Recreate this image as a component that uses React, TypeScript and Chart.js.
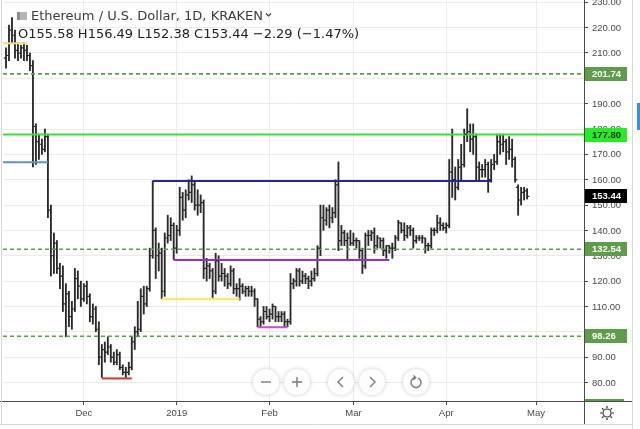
import React, { useEffect, useRef } from "react";
import { Chart, registerables } from "chart.js";

Chart.register(...registerables);

// ---------- DATA ----------
const dates = [
  "2018-11-05","2018-11-06","2018-11-07","2018-11-08","2018-11-09","2018-11-10","2018-11-11","2018-11-12","2018-11-13","2018-11-14",
  "2018-11-15","2018-11-16","2018-11-17","2018-11-18","2018-11-19","2018-11-20","2018-11-21","2018-11-22","2018-11-23","2018-11-24",
  "2018-11-25","2018-11-26","2018-11-27","2018-11-28","2018-11-29","2018-11-30",
  "2018-12-01","2018-12-02","2018-12-03","2018-12-04","2018-12-05","2018-12-06","2018-12-07","2018-12-08","2018-12-09","2018-12-10",
  "2018-12-11","2018-12-12","2018-12-13","2018-12-14","2018-12-15","2018-12-16","2018-12-17","2018-12-18","2018-12-19","2018-12-20",
  "2018-12-21","2018-12-22","2018-12-23","2018-12-24","2018-12-25","2018-12-26","2018-12-27","2018-12-28","2018-12-29","2018-12-30","2018-12-31",
  "2019-01-01","2019-01-02","2019-01-03","2019-01-04","2019-01-05","2019-01-06","2019-01-07","2019-01-08","2019-01-09","2019-01-10",
  "2019-01-11","2019-01-12","2019-01-13","2019-01-14","2019-01-15","2019-01-16","2019-01-17","2019-01-18","2019-01-19","2019-01-20",
  "2019-01-21","2019-01-22","2019-01-23","2019-01-24","2019-01-25","2019-01-26","2019-01-27","2019-01-28","2019-01-29","2019-01-30","2019-01-31",
  "2019-02-01","2019-02-02","2019-02-03","2019-02-04","2019-02-05","2019-02-06","2019-02-07","2019-02-08","2019-02-09","2019-02-10",
  "2019-02-11","2019-02-12","2019-02-13","2019-02-14","2019-02-15","2019-02-16","2019-02-17","2019-02-18","2019-02-19","2019-02-20",
  "2019-02-21","2019-02-22","2019-02-23","2019-02-24","2019-02-25","2019-02-26","2019-02-27","2019-02-28",
  "2019-03-01","2019-03-02","2019-03-03","2019-03-04","2019-03-05","2019-03-06","2019-03-07","2019-03-08","2019-03-09","2019-03-10",
  "2019-03-11","2019-03-12","2019-03-13","2019-03-14","2019-03-15","2019-03-16","2019-03-17","2019-03-18","2019-03-19","2019-03-20",
  "2019-03-21","2019-03-22","2019-03-23","2019-03-24","2019-03-25","2019-03-26","2019-03-27","2019-03-28","2019-03-29","2019-03-30","2019-03-31",
  "2019-04-01","2019-04-02","2019-04-03","2019-04-04","2019-04-05","2019-04-06","2019-04-07","2019-04-08","2019-04-09","2019-04-10",
  "2019-04-11","2019-04-12","2019-04-13","2019-04-14","2019-04-15","2019-04-16","2019-04-17","2019-04-18","2019-04-19","2019-04-20",
  "2019-04-21","2019-04-22","2019-04-23","2019-04-24","2019-04-25","2019-04-26","2019-04-27","2019-04-28",
];

const opens = [
  208,209,219,217,211,210,212,211,209,205,181,175,174,172,177,148,130,135,125,122,111,115,106,109,121,118,
  113,118,114,106,109,101,90,93,92,94,90,88,91,86,84,84,86,96,100,101,114,111,117,130,140,130,131,116,137,138,142,
  133,140,153,148,154,155,158,150,150,151,125,126,124,116,128,122,123,122,119,124,117,117,118,116,117,116,116,113,105,104,108,
  106,107,110,106,106,107,104,104,119,120,124,120,122,121,120,121,123,133,145,144,148,145,147,158,136,139,136,137,
  135,136,136,132,126,138,138,139,134,137,136,132,134,133,133,137,143,140,138,141,140,136,137,137,137,134,134,140,140,143,142,
  141,142,163,160,157,165,166,178,179,176,177,165,164,164,166,160,166,167,175,174,175,171,172,168,157,152,155,155.58,
];
const highs = [
  212,221,224,219,214,213,214,213,210,207,182,178,176,180,178,150,139,136,127,126,119,116,112,125,124,120,
  119,120,115,111,110,104,95,96,98,95,92,93,92,87,86,88,98,102,112,117,118,118,133,159.5,141,135,133,139,146,145,143,
  142,157,155,156,160,161.5,159,156,154,152,129,127,125,131,130,127,125,123,126,125,119,121,119,118,118,118,117,113,106,110,110,
  109,111,110,108,108,108,105,123,121,125,125,124,123,122,124,125,134,150,150,149,150,149,160,167,142,140,139,140,
  139,137,136,133,139,140,140,141,138,137,137,134,134,135,138,144,143,143,142,142,141,138,138,138,137,135,141,141,146,145,143,
  143,168,180,165,168,174,180,188,182,182,178,167,166,168,167,168,170,178,178,178,176,177,176,169,158,157,157,156.49,
];
const lows = [
  204,207,214,208,207,208,207,207,203,165,166,168,170,171,145,122,123,123,117,108,98,102,101,108,113,110,
  112,111,104,103,100,87,82,88,91,88,87,87,85,83,82,83,85,93,98,100,107,110,116,129,121,124,113,114,135,136,128.5,
  131,138,144,145,152,151,148,146,147,121,120,121,113,115,120,120,118,117,118,115,114,112.5,115,114,114,114,110,102,102,103,105,
  104,105,104,104,104,102,102,103,117,118,118,119,119,117,118,120,122,130,140,142,141,143,145,132,134,134,128,134,
  134,133,129,123,125,134,136,131,133,133,130,129,131,129,132,136,139,136,137,138,133,135,136,135,131,132,133,138,139,140,140,
  139,141,153,152,156,160,165,175,171,170,160,160,161,161,155,159,164,166,170,171,166,168,165,159,146,150,152,152.38,
];
const closes = [
  209,219,217,211,210,212,211,209,205,181,175,174,172,177,148,130,135,125,122,111,115,106,109,121,118,113,
  118,114,106,109,101,90,93,92,94,90,88,91,86,84,84,86,96,100,101,114,111,117,130,140,130,131,116,137,138,142,133,
  140,153,148,154,155,158,150,150,151,125,126,124,116,128,122,123,122,119,124,117,117,118,116,117,116,116,113,105,104,108,106,
  107,110,106,106,107,104,104,119,120,124,120,122,121,120,121,123,133,145,144,148,145,147,158,136,139,136,137,135,
  136,136,132,126,138,138,139,134,137,136,132,134,133,133,137,143,140,138,141,140,136,137,137,137,134,134,140,140,143,142,141,
  142,163,160,157,165,166,178,179,176,177,165,164,164,166,160,166,167,175,174,175,171,172,168,160,152,155,155.58,153.44,
];

const viewStart = "2018-11-04";
const viewEnd = "2019-05-17";
const monthTickDates = ["2018-12-01", "2019-01-01", "2019-02-01", "2019-03-01", "2019-04-01", "2019-05-01"];
const monthTickLabels = ["Dec", "2019", "Feb", "Mar", "Apr", "May"];
const priceTicks = [80, 90, 100, 110, 120, 130, 140, 150, 160, 170, 180, 190, 200, 210, 220, 230];
const priceMin = 72.7;
const priceMax = 230.9;

// full-width horizontal levels
const levelValues = [201.74, 177.8, 132.54, 98.26];
const levelColors = ["#5f9e49", "#2ee82e", "#5f9e49", "#5f9e49"];
const levelDashed = [true, false, true, true];

// drawn segments
const segFrom = ["2018-11-04", "2018-11-04", "2018-12-24", "2018-12-31", "2018-12-27", "2019-01-28", "2018-12-07"];
const segTo = ["2018-11-12", "2018-11-19", "2019-04-16", "2019-03-13", "2019-01-22", "2019-02-07", "2018-12-17"];
const segLevel = [213.8, 166.9, 159.5, 128.3, 112.9, 101.8, 81.6];
const segColors = ["#f0dc7a", "#5b8ed8", "#25259e", "#9a2fc6", "#f3ee6a", "#e040d0", "#d93030"];

// axis price labels
const axisLabelValues = [201.74, 177.8, 153.44, 132.54, 98.26];
const axisLabelBg = ["#5f9e49", "#22ee22", "#000000", "#5f9e49", "#5f9e49"];
const axisLabelFg = ["#ffffff", "#1a2a1a", "#ffffff", "#ffffff", "#ffffff"];

const titleText = "Ethereum / U.S. Dollar, 1D, KRAKEN";
const changeText = "\u22122.29 (\u22121.47%)";

// ---------- helpers ----------
const DAY = 86400000;
const BASE = Date.UTC(2018, 11, 1);
function dayIndex(s: string): number {
  const [y, m, d] = s.split("-").map(Number);
  return (Date.UTC(y, m - 1, d) - BASE) / DAY;
}

const FONT = "'Liberation Sans', Arial, sans-serif";
const HFONT = "'DejaVu Sans', sans-serif";
const BAR_COLOR = "#2a2a2a";
const AXIS_COLOR = "#4a4a4a";

const overlayPlugin = {
  id: "overlay",
  beforeDraw(chart: any) {
    const { ctx, width, height } = chart;
    ctx.save();
    ctx.fillStyle = "#ffffff";
    ctx.fillRect(0, 0, width, height);
    ctx.restore();
  },
  afterDatasetsDraw(chart: any) {
    const { ctx, chartArea } = chart;
    const xs = chart.scales.x;
    const ys = chart.scales.y;
    ctx.save();
    ctx.beginPath();
    ctx.rect(chartArea.left, chartArea.top, chartArea.right - chartArea.left, chartArea.bottom - chartArea.top);
    ctx.clip();
    ctx.strokeStyle = BAR_COLOR;
    ctx.lineWidth = 1.2;
    ctx.beginPath();
    for (let i = 0; i < dates.length; i++) {
      const x = xs.getPixelForValue(dayIndex(dates[i]));
      const yo = ys.getPixelForValue(opens[i]);
      const yc = ys.getPixelForValue(closes[i]);
      ctx.moveTo(x - 2.2, yo);
      ctx.lineTo(x, yo);
      ctx.moveTo(x, yc);
      ctx.lineTo(x + 2.2, yc);
    }
    ctx.stroke();
    ctx.restore();
  },
  afterDraw(chart: any) {
    const { ctx, chartArea } = chart;
    const ys = chart.scales.y;
    const right = chartArea.right;
    ctx.save();

    // price tick labels
    ctx.font = `9.5px ${FONT}`;
    ctx.fillStyle = AXIS_COLOR;
    ctx.textAlign = "left";
    ctx.textBaseline = "middle";
    for (const v of priceTicks) {
      const y = ys.getPixelForValue(v);
      if (y < -6 || y > chartArea.bottom) continue;
      ctx.fillText(v.toFixed(2), right + 8, y + 0.5);
    }

    // price label boxes
    for (let i = 0; i < axisLabelValues.length; i++) {
      const y = ys.getPixelForValue(axisLabelValues[i]);
      ctx.fillStyle = axisLabelBg[i];
      ctx.fillRect(right + 1, Math.round(y) - 7, 42, 14);
      ctx.fillStyle = axisLabelFg[i];
      ctx.font = `bold 9.5px ${FONT}`;
      ctx.fillText(axisLabelValues[i].toFixed(2), right + 8, y + 0.5);
    }
    // cut label at bottom of axis
    ctx.fillStyle = "#5f9e49";
    ctx.fillRect(right + 1, chartArea.bottom - 2, 39, 2);

    // frame lines
    ctx.strokeStyle = AXIS_COLOR;
    ctx.lineWidth = 1;
    ctx.beginPath();
    ctx.moveTo(right + 0.5, 0);
    ctx.lineTo(right + 0.5, 424);
    ctx.moveTo(0, chartArea.bottom + 0.5);
    ctx.lineTo(633, chartArea.bottom + 0.5);
    ctx.stroke();
    ctx.strokeStyle = "#d8d8d8";
    ctx.beginPath();
    ctx.moveTo(1.5, 0);
    ctx.lineTo(1.5, 424);
    ctx.moveTo(632.5, 0);
    ctx.lineTo(632.5, 429);
    ctx.moveTo(0, 424.5);
    ctx.lineTo(633, 424.5);
    ctx.stroke();
    ctx.fillStyle = "#3a8ee6";
    ctx.fillRect(637, 103, 3, 27);

    // header
    ctx.fillStyle = "#b5b5b5";
    ctx.fillRect(17, 12, 10, 8);
    ctx.fillStyle = "#8e8e8e";
    ctx.fillRect(17, 12, 3, 8);
    ctx.font = `13px ${HFONT}`;
    ctx.textAlign = "left";
    ctx.textBaseline = "alphabetic";
    ctx.fillStyle = "#3c3c3c";
    ctx.fillText(titleText, 31, 20);
    const tw = ctx.measureText(titleText).width;
    ctx.strokeStyle = "#3c3c3c";
    ctx.lineWidth = 1.2;
    ctx.beginPath();
    ctx.moveTo(31 + tw + 3, 13.5);
    ctx.lineTo(31 + tw + 5.5, 16);
    ctx.lineTo(31 + tw + 8, 13.5);
    ctx.stroke();
    const n = opens.length - 1;
    const ohlc = `O${opens[n].toFixed(2)} H${highs[n].toFixed(2)} L${lows[n].toFixed(2)} C${closes[n].toFixed(2)} ${changeText}`;
    ctx.fillStyle = "#222222";
    ctx.fillText(ohlc, 18, 38);

    // navigation buttons
    const btnX = [266, 297, 341, 372, 416];
    const cy = 382;
    for (let i = 0; i < btnX.length; i++) {
      const cx = btnX[i];
      ctx.save();
      ctx.shadowColor = "rgba(0,0,0,0.22)";
      ctx.shadowBlur = 4;
      ctx.fillStyle = "rgba(255,255,255,0.96)";
      ctx.beginPath();
      ctx.arc(cx, cy, 13, 0, Math.PI * 2);
      ctx.fill();
      ctx.restore();
      ctx.strokeStyle = "#7a7a7a";
      ctx.lineWidth = 1.4;
      ctx.beginPath();
      if (i === 0) {
        ctx.moveTo(cx - 5, cy); ctx.lineTo(cx + 5, cy);
      } else if (i === 1) {
        ctx.moveTo(cx - 5, cy); ctx.lineTo(cx + 5, cy);
        ctx.moveTo(cx, cy - 5); ctx.lineTo(cx, cy + 5);
      } else if (i === 2) {
        ctx.moveTo(cx + 2, cy - 5); ctx.lineTo(cx - 3, cy); ctx.lineTo(cx + 2, cy + 5);
      } else if (i === 3) {
        ctx.moveTo(cx - 2, cy - 5); ctx.lineTo(cx + 3, cy); ctx.lineTo(cx - 2, cy + 5);
      } else {
        ctx.arc(cx, cy + 0.5, 5, -Math.PI * 0.35, Math.PI * 1.45);
        ctx.moveTo(cx - 2.5, cy - 6.5); ctx.lineTo(cx - 0.3, cy - 4.4); ctx.lineTo(cx - 2.8, cy - 2.4);
      }
      ctx.stroke();
    }

    // settings gear
    const gx = 607, gy = 413;
    ctx.strokeStyle = "#333";
    ctx.lineWidth = 1.2;
    ctx.beginPath();
    ctx.arc(gx, gy, 4, 0, Math.PI * 2);
    for (let k = 0; k < 8; k++) {
      const a = (k * Math.PI) / 4;
      ctx.moveTo(gx + Math.cos(a) * 5, gy + Math.sin(a) * 5);
      ctx.lineTo(gx + Math.cos(a) * 7, gy + Math.sin(a) * 7);
    }
    ctx.stroke();
    ctx.restore();
  },
};

export default function App() {
  const ref = useRef<HTMLCanvasElement | null>(null);
  useEffect(() => {
    if (!ref.current) return;
    const xMin = dayIndex(viewStart);
    const xMax = dayIndex(viewEnd);
    const datasets: any[] = [];
    datasets.push({
      type: "bar",
      data: dates.map((s, i) => ({ x: dayIndex(s), y: [lows[i], highs[i]] })),
      backgroundColor: BAR_COLOR,
      borderWidth: 0,
      barThickness: 1.2,
      order: 2,
    });
    levelValues.forEach((v, i) => {
      datasets.push({
        type: "line",
        data: [{ x: xMin, y: v }, { x: xMax, y: v }],
        borderColor: levelColors[i],
        borderWidth: levelDashed[i] ? 1.6 : 2,
        borderDash: levelDashed[i] ? [4, 3] : [],
        pointRadius: 0,
        fill: false,
        order: 1,
      });
    });
    segLevel.forEach((v, i) => {
      datasets.push({
        type: "line",
        data: [{ x: dayIndex(segFrom[i]), y: v }, { x: dayIndex(segTo[i]), y: v }],
        borderColor: segColors[i],
        borderWidth: i === 4 ? 2.5 : 2,
        pointRadius: 0,
        fill: false,
        order: 1,
      });
    });

    const chart = new Chart(ref.current, {
      type: "bar",
      data: { datasets },
      options: {
        responsive: false,
        animation: false,
        devicePixelRatio: 1,
        events: [],
        layout: { padding: { left: 3, right: 12, top: 0, bottom: 6 } },
        plugins: { legend: { display: false }, tooltip: { enabled: false } },
        scales: {
          x: {
            type: "linear",
            min: xMin,
            max: xMax,
            offset: false,
            afterBuildTicks: (s: any) => {
              s.ticks = monthTickDates.map((d) => ({ value: dayIndex(d) }));
            },
            afterFit: (s: any) => {
              s.height = 22;
            },
            ticks: {
              autoSkip: false,
              maxRotation: 0,
              padding: 3,
              color: AXIS_COLOR,
              font: { family: FONT, size: 9.5 },
              callback: (_v: any, idx: number) => monthTickLabels[idx],
            },
            grid: { color: "#ebebeb", lineWidth: 1, tickLength: 4, tickColor: AXIS_COLOR, offset: false },
            border: { display: true, color: AXIS_COLOR, width: 1 },
          },
          y: {
            type: "linear",
            position: "right",
            min: priceMin,
            max: priceMax,
            afterBuildTicks: (s: any) => {
              s.ticks = priceTicks.map((v) => ({ value: v }));
            },
            afterFit: (s: any) => {
              s.width = 44;
            },
            ticks: { display: false },
            grid: { color: "#ebebeb", lineWidth: 1, tickLength: 4, tickColor: AXIS_COLOR },
            border: { display: true, color: AXIS_COLOR, width: 1 },
          },
        },
      } as any,
      plugins: [overlayPlugin],
    } as any);
    return () => chart.destroy();
  }, []);

  return (
    <div style={{ position: "absolute", left: 0, top: 0, width: 640, height: 429, background: "#fff" }}>
      <canvas ref={ref} width={640} height={429} style={{ display: "block", width: 640, height: 429 }} />
    </div>
  );
}
